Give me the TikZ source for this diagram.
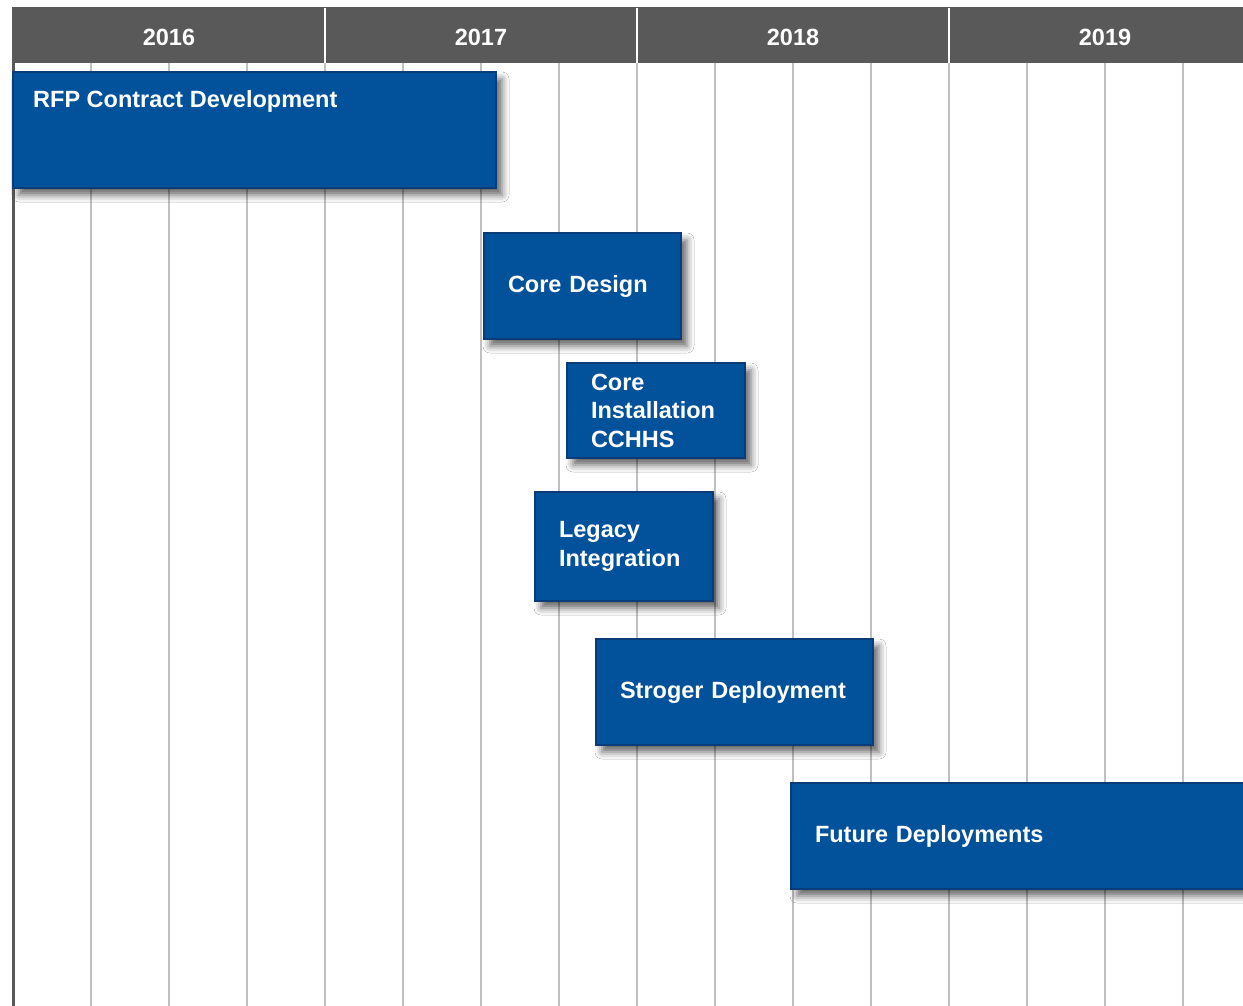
\documentclass[tikz,border=0pt]{standalone}
\usepackage{fontspec}
\setmainfont{Liberation Sans}
\usetikzlibrary{shadows.blur}

\definecolor{headgray}{HTML}{595959}
\definecolor{gridgray}{HTML}{C0C0C0}
\definecolor{taskblue}{HTML}{02519B}
\definecolor{taskedge}{HTML}{0B3C78}

\tikzset{
	gridline/.style={draw=gridgray, line width=2.5pt},
	yeardiv/.style={draw=white, line width=2pt},
	yearlabel/.style={text=white, font=\bfseries\fontsize{23.5}{28.5}\selectfont},
	tasktext/.style={text=white, font=\bfseries\fontsize{23.5}{28.5}\selectfont, inner sep=0pt},
	taskbox/.style={rectangle, fill=taskblue, draw=taskedge, line width=2pt,
		anchor=north west, inner xsep=24pt, inner ysep=0pt, align=left,
		text=white, font=\bfseries\fontsize{23.5}{28.5}\selectfont,
		blur shadow={shadow xshift=6pt, shadow yshift=-7pt, shadow blur radius=7pt, shadow opacity=60}}
}

\begin{document}
\begin{tikzpicture}[x=1pt, y=-1pt]
	\useasboundingbox (0,0) rectangle (1243,1006);
	\clip (0,0) rectangle (1243,1006);
	\fill[white] (0,0) rectangle (1243,1006);
	\draw[gridline] (91,63) -- (91,1006);
	\draw[gridline] (169,63) -- (169,1006);
	\draw[gridline] (247,63) -- (247,1006);
	\draw[gridline] (325,63) -- (325,1006);
	\draw[gridline] (403,63) -- (403,1006);
	\draw[gridline] (481,63) -- (481,1006);
	\draw[gridline] (559,63) -- (559,1006);
	\draw[gridline] (637,63) -- (637,1006);
	\draw[gridline] (715,63) -- (715,1006);
	\draw[gridline] (793,63) -- (793,1006);
	\draw[gridline] (871,63) -- (871,1006);
	\draw[gridline] (949,63) -- (949,1006);
	\draw[gridline] (1027,63) -- (1027,1006);
	\draw[gridline] (1105,63) -- (1105,1006);
	\draw[gridline] (1183,63) -- (1183,1006);
	\draw[draw=headgray, line width=3pt] (13,63) -- (13,1006);
	\fill[headgray] (12,7) rectangle (1243,63);
	\draw[yeardiv] (325,8) -- (325,63);
	\draw[yeardiv] (637,8) -- (637,63);
	\draw[yeardiv] (949,8) -- (949,63);
	\node[yearlabel] (y2016) at (169,37) {2016};
	\node[yearlabel] (y2017) at (481,37) {2017};
	\node[yearlabel] (y2018) at (793,37) {2018};
	\node[yearlabel] (y2019) at (1105,37) {2019};
	\node[taskbox, minimum width=483pt, minimum height=116pt] (rfp) at (12,71) {};
	\node[tasktext, anchor=base west] (rfptext) at (33,108) {RFP Contract Development};
	\node[taskbox, minimum width=197pt, minimum height=106pt, text width=149pt] (design) at (483,232) {Core Design};
	\node[taskbox, minimum width=178pt, minimum height=95pt, text width=130pt] (install) at (566,362) {Core\\Installation\\CCHHS};
	\node[taskbox, minimum width=178pt, minimum height=109pt, text width=130pt] (legacy) at (534,491) {Legacy\\Integration};
	\node[taskbox, minimum width=277pt, minimum height=106pt, text width=229pt] (stroger) at (595,638) {Stroger Deployment};
	\node[taskbox, minimum width=480pt, minimum height=106pt, text width=432pt] (future) at (790,782) {Future Deployments};
\end{tikzpicture}
\end{document}
